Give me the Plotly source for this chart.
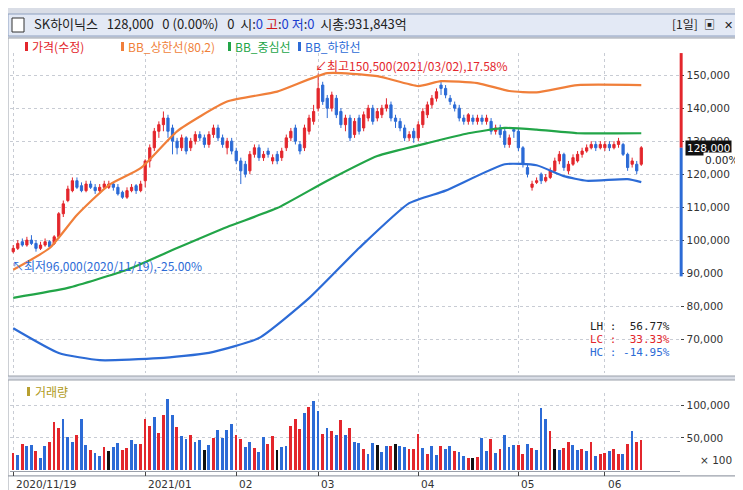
import plotly.graph_objects as go

# ---------------- data (prices in thousand KRW) ----------------
open_k = [96.5,97.5,99.5,98.5,100,99,97.5,98.5,
          99.5,99,101,108,112,115,118,116.5,115,117,116,115,116,116,117,116,114.5,113,115,116.5,115,
          118,124,128,133,135,137,134,130,128,131,128,130,132,131,129,132,134,131,128,130,
          127,124,123,121,126,128,125,127,124,126,125,128,131,134,129,128,133,136,
          140,147,143,140,143,139,135,137,132,137,134,137,140,137,138,140,141,137,136,134,131,133,
          131,135,138,141,143,147,146,143,141,140,137,136,137,136,137,136,136,133,134,133,129,133.5,
          133,128,122,116,117.5,120,118,119,121,124,126,121,123,124,126,127,128,129,128,
          128,129,128,129,129,126,123,123,123]
close_k = [97.5,99,98.5,100,99,97.5,98.5,99.5,
           98,101,108,111,115.5,118,116,115,117,116,115,116,117,117,116,114,113,115,116,115,117,
           124,128,133,135,137,133,130,128,131,127,130,132,131,129,132,134,131,129,130,127,
           124,121,120,126,128,125,126,126,125,124,127,131,133,130,127,134,137,139,
           146,142,140,144,138,135,137,131,136,133,138,140,136,139,140,141,137,136,134,131,132,131,
           135,139,141,143,145,146,144,142,140,137,136,138,136,137,136,137,133,134,132,129,131,133,
           128,123,120,117,118,118,119,121,124,126,122,123,125,126,127,128,129,128,129,
           129,128,129,130,126,122,124,121,128]
high_k = [98.5,100,100.5,101,101.5,100,99.5,100.5,
          100,101.5,108.5,112,116.5,119,119,117.5,118,118,117,117,118,118,117.5,117,115,116,117,117,118,
          124.5,129,134,136,139,138,135,131,132,131.5,131,133,133,132,133,135,135,132,131,131,
          128,125,124,127,129,129,127,128,126,127,128,132,134,135,130,135,138,141,
          150.5,148,144,145,144,140,138,138,137,138,139,141,141,140,141,143,142,138,137,135,133,134,
          136,140,142,144,146,148,147,144,142,141,138,138.5,138,138,138,138,137,135,135,134,132,134,
          134,128.5,123,118,119,120.5,120,122,125,127,126.5,124,126,127,128,129,130,130,130,
          130,130,130,131,129.5,126.5,125,124,128.5]
low_k = [96,97,98,98,98.5,96.5,97,98,
         97.5,98.5,100.5,107,111.5,114.5,115.5,114.5,114.5,115.5,114,114,115.5,115.5,115,113.5,112.5,112.5,114.5,114,114.5,
         116,122,127,131,133,131,126,126,127,126,127,129,130,128,128,131,130,128,126,126,
         123,117,119,120,125,124,124,125,123,123,124,127,130,129,126,127,132,135,
         139,141,137,139,137,134,133,130,131,132,133,136,135,136,137,139,136,134,133,130,130,129.5,
         130,134,137,140,142,144,143,141,139,136,135,135,135,135,135,135,132,132,131,128,128,131,
         127,122,119,115,117,117,117.5,118.5,120.5,123,121,120,122.5,123.5,125,126.5,127.5,127,127.5,
         127,127,127.5,128,125.5,121,122,120,122.5]
# volume in thousands of shares (x100 display)
volume_k = [27,23,40,38,39,29,18,37,44,74,65,80,51,44,55,80,39,31,27,22,36,29,36,42,31,34,47,40,40,
            79,69,83,58,85,110,85,67,53,48,54,44,47,31,39,50,62,50,62,72,
            55,48,36,44,34,28,51,41,53,31,36,37,68,79,64,89,98,107,
            92,56,65,60,55,77,55,65,43,42,33,25,42,39,28,38,38,40,38,35,32,32,
            56,34,25,38,24,37,32,37,29,28,22,19,19,20,50,29,48,27,32,55,36,39,
            39,25,40,34,31,97,80,60,32,31,34,44,39,31,32,29,44,22,25,
            27,29,33,25,25,40,60,44,47]
vol_dir = list("UDUDDUDDUUUDDDUDDUDDUNDDUUDDU"
               "UUDUUDDUDDUDDNDUDDDD"
               "UUDDUDDUUNDDUUUDUD"
               "DUDUDUDUDDUDDNDDUNDDUU"
               "UDUDDUDDUDDUNUDDUDUDDD"
               "UUDUDDDUNDUUDDUDUDU"
               "UDUUDUDUU")

# Bollinger bands: (bar index, value)
upper_idx = [0,8,14,21,28,36,47,58,69,80,89,94,102,109,115,124,138]
upper_k = [91,97.6,107.6,116.7,121.8,133,142,145,150.6,149.7,146.7,148.2,147.6,145.2,144.8,147,147]
mid_idx = [0,12,25,36,47,58,69,80,91,100,108,115,124,138]
mid_k = [82.5,85.5,91,97.6,104,109.7,118,125.5,129.4,132.4,134,133.5,132.4,132.4]
lower_idx = [0,10,19,32,43,54,65,76,87,95,108,115,121,126,135,138]
lower_k = [73.3,65.8,63.6,64.2,65.8,70.3,82.4,97.6,111.2,115,123,122.7,119.4,118,118.5,117.6]

tick_idx = [0,29,49,67,89,111,130]
tick_labels = ["2020/11/19","2021/01","02","03","04","05","06"]
price_ticks = [70000,80000,90000,100000,110000,120000,130000,140000,150000]
vol_ticks = [50000,100000]

# ---------------- figure ----------------
RED = "#e3262c"; BLUE = "#2c6bd6"; ORANGE = "#f07f3a"; GREEN = "#22a548"
FONT = "Noto Sans CJK KR"
TF = dict(family="DejaVu Sans", size=10.5, color="#333")
n = len(close_k)
xs = list(range(n))
k = 1000
XD = 0.905

fig = go.Figure()
fig.add_trace(go.Candlestick(
    x=xs, open=[v*k for v in open_k], high=[v*k for v in high_k],
    low=[v*k for v in low_k], close=[v*k for v in close_k],
    increasing=dict(line=dict(color=RED, width=1), fillcolor=RED),
    decreasing=dict(line=dict(color=BLUE, width=1), fillcolor=BLUE),
    whiskerwidth=0, xaxis="x", yaxis="y", showlegend=False, hoverinfo="skip"))
for idx, vals, col in [(upper_idx, upper_k, ORANGE), (mid_idx, mid_k, GREEN), (lower_idx, lower_k, BLUE)]:
    fig.add_trace(go.Scatter(x=idx, y=[v*k for v in vals], mode="lines",
                             line=dict(color=col, width=2.2, shape="spline", smoothing=0.5),
                             xaxis="x", yaxis="y", showlegend=False, hoverinfo="skip"))
cmap = {"U": RED, "D": BLUE, "N": "#111111"}
fig.add_trace(go.Bar(x=xs, y=[v*k for v in volume_k], marker=dict(color=[cmap[d] for d in vol_dir], line=dict(width=0)),
                     width=0.62, xaxis="x2", yaxis="y2", showlegend=False, hoverinfo="skip"))

xr = [-0.66, 146.6]
grid = dict(showgrid=True, gridcolor="#c8ccd4", griddash="dot", gridwidth=1)
fig.update_layout(
    width=743, height=490, margin=dict(l=0, r=0, t=0, b=0),
    paper_bgcolor="#d9dde6", plot_bgcolor="white",
    font=dict(family=FONT, size=12, color="#222"),
    xaxis=dict(domain=[0.003, XD], range=xr, rangeslider=dict(visible=False),
               tickvals=tick_idx, showticklabels=False, zeroline=False, **grid),
    yaxis=dict(domain=[0.255, 0.908], range=[59700, 156700], side="right",
               tickvals=price_ticks, tickformat=",d", ticks="outside", ticklen=3,
               tickfont=TF, zeroline=False, **grid),
    xaxis2=dict(domain=[0.003, XD], range=xr, anchor="y2", tickvals=tick_idx, showticklabels=False,
                ticks="outside", ticklen=4, zeroline=False, showline=True, linecolor="#9aa0aa", **grid),
    yaxis2=dict(domain=[0.055, 0.214], range=[-1500, 119700], side="right", anchor="x2",
                tickvals=vol_ticks, tickformat=",d", ticks="outside", ticklen=3,
                tickfont=TF, zeroline=False, **grid),
    bargap=0,
)

shapes = []
shapes.append(dict(type="rect", xref="paper", yref="paper", x0=0, x1=1, y0=1-368/490, y1=1-30/490,
                   fillcolor="white", line=dict(color="#9aa0aa", width=1), layer="below"))
shapes.append(dict(type="rect", xref="paper", yref="paper", x0=0, x1=1, y0=1-468/490, y1=1-372/490,
                   fillcolor="white", line=dict(color="#9aa0aa", width=1), layer="below"))
shapes.append(dict(type="rect", xref="paper", yref="paper", x0=0, x1=1, y0=0, y1=1-468/490,
                   fillcolor="white", line=dict(color="#9aa0aa", width=1), layer="below"))
shapes.append(dict(type="rect", xref="paper", yref="paper", x0=0, x1=1, y0=1-28/490, y1=1-6/490,
                   fillcolor="#e3e9f5", line=dict(color="#8ea0c0", width=1), layer="below"))
shapes.append(dict(type="rect", xref="paper", yref="paper", x0=4/743, x1=16/743, y0=1-24/490, y1=1-10/490,
                   fillcolor="white", line=dict(color="#333", width=1)))
shapes.append(dict(type="rect", xref="paper", yref="y", x0=XD-0.001, x1=XD+0.003, y0=128000, y1=156700,
                   fillcolor=RED, line=dict(width=0)))
shapes.append(dict(type="rect", xref="paper", yref="y", x0=XD-0.001, x1=XD+0.003, y0=89000, y1=128000,
                   fillcolor=BLUE, line=dict(width=0)))
for xp, col in [(17, RED), (113, ORANGE), (220, GREEN), (290, BLUE)]:
    shapes.append(dict(type="rect", xref="paper", yref="paper", x0=xp/743, x1=(xp+3)/743,
                       y0=1-43/490, y1=1-34/490, fillcolor=col, line=dict(width=0)))
shapes.append(dict(type="rect", xref="paper", yref="paper", x0=19/743, x1=22/743,
                   y0=1-388/490, y1=1-379/490, fillcolor="#b8a030", line=dict(width=0)))
fig.update_layout(shapes=shapes)

ann = []
def A(x, y, text, color="#222", size=12, xanchor="left", family=FONT, **kw):
    ann.append(dict(x=x/743, y=1-y/490, xref="paper", yref="paper", text=text, showarrow=False,
                    xanchor=xanchor, yanchor="middle", font=dict(color=color, size=size, family=family), **kw))

A(24, 16, "SK하이닉스&nbsp;&nbsp;&nbsp;128,000&nbsp;&nbsp;&nbsp;0&nbsp;(0.00%)&nbsp;&nbsp;&nbsp;0&nbsp;&nbsp;"
      "시:<span style='color:#1a3fd0'>0</span> <span style='color:#d01818'>고</span>:"
      "<span style='color:#1a3fd0'>0</span> <span style='color:#1a3fd0'>저</span>:"
      "<span style='color:#1a3fd0'>0</span>&nbsp;&nbsp;시총:931,843억", size=13)
A(662, 16, "[1일]", size=12)
A(694, 16, "▣", size=11); A(714, 16, "✕", size=11)
A(22, 39, "가격(수정)", RED)
A(118, 39, "BB_상한선(80,2)", ORANGE)
A(225, 39, "BB_중심선", GREEN)
A(295, 39, "BB_하한선", BLUE)
A(305, 58, "↙최고150,500(2021/03/02),17.58%", RED)
A(2, 257, "↖최저96,000(2020/11/19),-25.00%", BLUE)
A(580, 318, "LH :&nbsp;&nbsp;56.77%", "#222", family="DejaVu Sans Mono", size=11)
A(580, 331, "LC :&nbsp;&nbsp;33.33%", RED, family="DejaVu Sans Mono", size=11)
A(580, 344, "HC : -14.95%", BLUE, family="DejaVu Sans Mono", size=11)
A(25, 383, "거래량", "#b09a20")
A(690, 452, "× 100", "#333", family="DejaVu Sans", size=10.5)
for ti, tl in zip(tick_idx, tick_labels):
    ann.append(dict(x=ti, y=1-476/490, xref="x2", yref="paper", text=tl, showarrow=False, xanchor="left",
                    yanchor="middle", xshift=1, font=TF))
ann.append(dict(x=XD+0.006, y=128000, xref="paper", yref="y", text="128,000", showarrow=False, xanchor="left",
                bgcolor="#111", font=dict(color="white", size=10.5, family="DejaVu Sans"), borderpad=1))
ann.append(dict(x=0.985, y=124300, xref="paper", yref="y", text="0.00%", showarrow=False, xanchor="right",
                bgcolor="white", font=dict(color="#222", size=10.5, family="DejaVu Sans")))
fig.update_layout(annotations=ann)

fig.write_html("out.html")
